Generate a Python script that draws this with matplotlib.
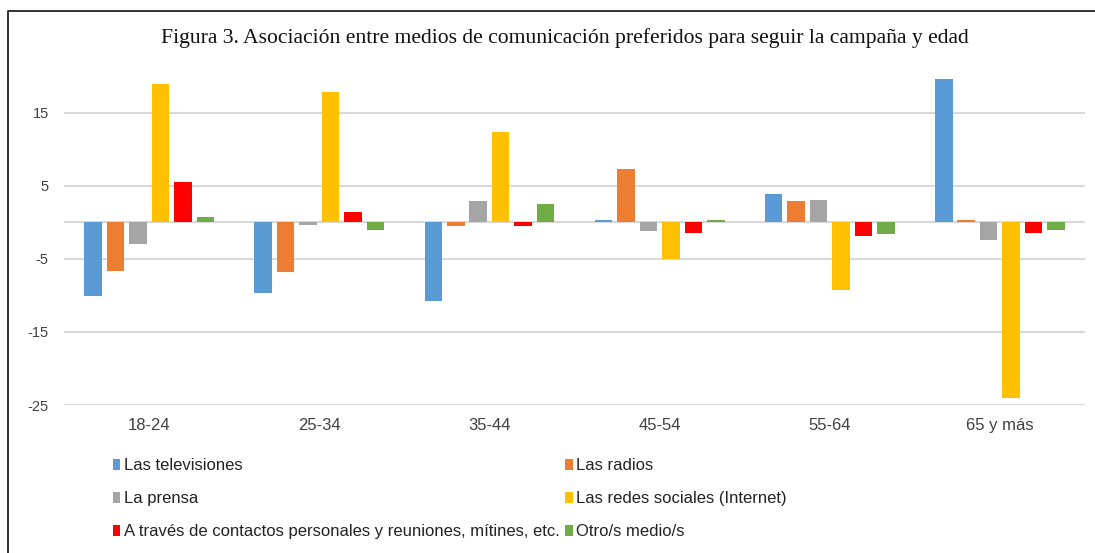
import numpy as np
import matplotlib
matplotlib.use('Agg')
from matplotlib import pyplot as plt
from matplotlib.lines import Line2D

plt.rcParams['font.family'] = ['Liberation Sans', 'DejaVu Sans']

# Data
categories = ['18-24', '25-34', '35-44', '45-54', '55-64', '65 y más']
series_names = ['Las televisiones', 'Las radios', 'La prensa',
                'Las redes sociales (Internet)',
                'A través de contactos personales y reuniones, mítines, etc.',
                'Otro/s medio/s']
televisiones = [-10.1, -9.7, -10.8, 0.4, 3.9, 19.6]
radios = [-6.7, -6.8, -0.5, 7.3, 3.0, 0.3]
prensa = [-3.0, -0.3, 3.0, -1.1, 3.1, -2.4]
redes = [19.0, 17.9, 12.4, -5.0, -9.2, -24.0]
contactos = [5.6, 1.5, -0.5, -1.4, -1.8, -1.5]
otros = [0.7, -1.0, 2.5, 0.4, -1.6, -1.0]
yticks = [-25, -15, -5, 5, 15]

colors = ['#5B9BD5', '#ED7D31', '#A5A5A5', '#FFC000', '#FF0000', '#70AD47']
all_series = [televisiones, radios, prensa, redes, contactos, otros]

fig = plt.figure(figsize=(10.95, 5.53), dpi=100)
ax = fig.add_axes([0.0585, 0.2676, 0.9324, 0.5955])

x = np.arange(len(categories))
pitch = 0.132
bw = 0.103
bars = []
for i, (vals, col) in enumerate(zip(all_series, colors)):
    b = ax.bar(x + (i - 2.5) * pitch, vals, width=bw, color=col, label=series_names[i], zorder=3)
    bars.append(b)

ax.set_xlim(-0.5, len(categories) - 0.5)
ax.set_ylim(-25, 20.1)
ax.set_yticks(yticks)
ax.set_yticklabels([str(t) for t in yticks], fontsize=10.5, color='#404040')
for t in yticks:
    ax.axhline(t, color='#D9D9D9', lw=1.5, zorder=1)
ax.axhline(0, color='#D9D9D9', lw=1.5, zorder=2)
ax.set_xticks(x)
ax.set_xticklabels(categories, fontsize=12, color='#404040')
ax.tick_params(axis='both', length=0)
ax.tick_params(axis='x', pad=9)
ax.tick_params(axis='y', pad=11)
for s in ax.spines.values():
    s.set_visible(False)

fig.text(0.5155, 0.931, 'Figura 3. Asociación entre medios de comunicación preferidos para seguir la campaña y edad',
         ha='center', va='center', fontsize=15.6, family='Liberation Serif', color='#111111')

# legend: fill rows like Excel
order = [0, 2, 4, 1, 3, 5]
handles = [bars[k] for k in order]
labels = [series_names[k] for k in order]
fig.legend(handles, labels, ncol=2, loc='upper left', bbox_to_anchor=(0.097, 0.183),
           frameon=False, fontsize=12, handlelength=0.45, handleheight=0.6,
           handletextpad=0.2, columnspacing=0.35, labelspacing=1.07, borderaxespad=0,
           labelcolor='#222222')

# outer frame (left and top edges only)
fig.add_artist(Line2D([0.007, 0.007, 1.0], [0.0, 0.981, 0.981],
                      transform=fig.transFigure, color='#222222', lw=1.3))

fig.savefig('out.png', dpi=100)
